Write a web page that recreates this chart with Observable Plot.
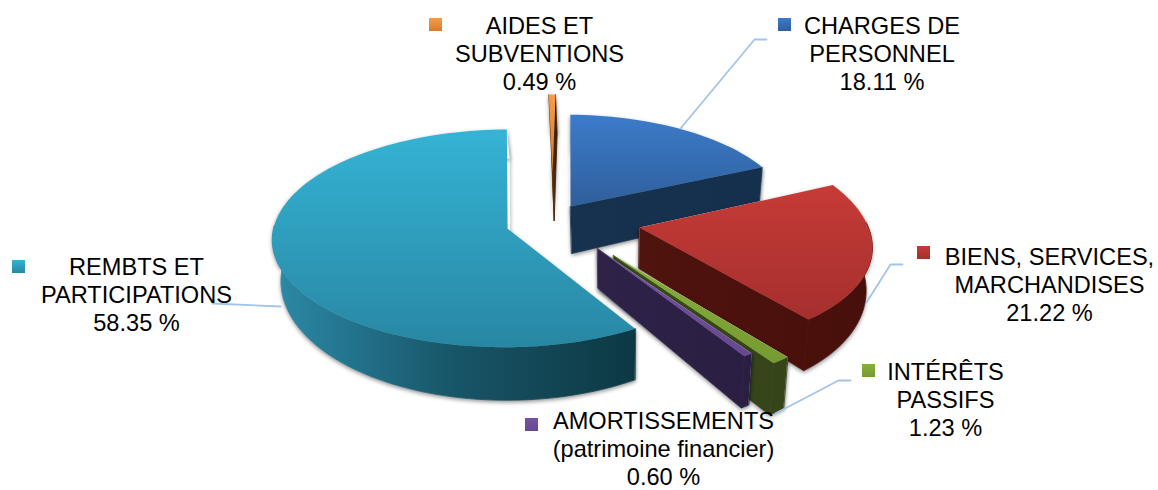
<!DOCTYPE html>
<html lang="fr">
<head>
<meta charset="utf-8">
<script src="https://cdn.jsdelivr.net/npm/d3@7"></script>
<script src="https://cdn.jsdelivr.net/npm/@observablehq/plot@0.6"></script>
<style>
html,body{margin:0;padding:0;background:#fff;overflow:hidden}
svg{display:block}
g[fill="#fefefe"]{filter:drop-shadow(0px 2px 2px rgba(0,0,0,.45))}
</style>
</head>
<body>
<div id="chart"></div>
<script>
// Data, clockwise from the top of the pie
const keys = ["charges", "biens", "interets", "amort", "rembts", "aides"];
const names = ["CHARGES DE\nPERSONNEL", "BIENS, SERVICES,\nMARCHANDISES", "INTÉRÊTS\nPASSIFS",
  "AMORTISSEMENTS\n(patrimoine financier)", "REMBTS ET\nPARTICIPATIONS", "AIDES ET\nSUBVENTIONS"];
const shares = [18.11, 21.22, 1.23, 0.60, 58.35, 0.49];

// Layout of each exploded slice, in the same order
const apexX = [570, 639, 613, 597, 507, 552];
const apexY = [206, 227, 255, 248, 228, 172];
const radiusX = [219, 229, 234, 234, 234, 234];
const radiusY = [100, 108, 119, 116, 108, 85];
const shear = [0.033, 0.2, 0.2, 0.15, -0.03, 0];
const depth0 = [47, 41, 40, 40, 40, 48];
const perspective = 0.09, depthSlope = 0.11, startAngle = 0.8;
const vanishX = 620, converge = 0.025;
const drawOrder = [5, 0, 1, 2, 3, 4];

// Colours: top gradient, side gradient stops
const topStops = [["#3c7bca", "#2f5f9b"], ["#c63b37", "#a52f2d"], ["#86b03a", "#769a31"],
  ["#7552a2", "#664890"], ["#35b3d5", "#2887a3"], ["#fb9a48", "#d87a2c"]];
const sideStops = [["#17324f", "#15304d"], ["#50130e", "#470f0b"], ["#3a4b17", "#35441a"],
  ["#2f2249", "#2a1e42"], ["#2c8aa8", "#185568", "#0d3843"], ["#8a4a10", "#3a2008"]];

// Labels
const labelX = [881.5, 1049, 945, 663, 136, 539];
const labelMid = [53, 284, 399, 448, 294, 53];
const keyX = [778, 917, 862, 525, 12, 429];
const keyY = [18, 246, 364, 418, 260, 18];
const leaders = [
  [[766, 39], [754, 39], [680, 128]],
  [[902, 264], [890, 264], [866, 302]],
  [[850, 380], [838, 380], [775, 413]],
  [[212, 303], [280, 306]]
];

const total = d3.sum(shares);
let cum = startAngle;
const ranges = shares.map(s => { const a = cum; cum += s / total * 360; return [a, cum]; });

function pt(i, deg) {
  const t = deg * Math.PI / 180, w = 1 + perspective * Math.cos(t);
  const dy = -radiusY[i] * Math.cos(t) / w;
  const dx = radiusX[i] * Math.sin(t) / w + shear[i] * dy;
  return {x: apexX[i] + dx, y: apexY[i] + dy, drop: depth0[i] + depthSlope * dy, deg};
}
function arc(i) {
  const [a, b] = ranges[i], n = Math.max(2, Math.ceil((b - a) / 2)), out = [];
  for (let k = 0; k <= n; k++) out.push(pt(i, a + (b - a) * k / n));
  return out;
}
const apex = i => ({x: apexX[i], y: apexY[i], drop: depth0[i]});
const lower = p => ({x: p.x - (p.x - vanishX) * converge, y: p.y + p.drop});
const strip = pts => [...pts, ...pts.slice().reverse().map(lower)];
const face = (o, tip) => [o, tip, lower(tip), lower(o)];
const onRight = deg => { const d = ((deg % 360) + 360) % 360; return d > 0 && d < 180; };

function sliceMarks(i) {
  const a = arc(i), tipA = a[0], tipB = a[a.length - 1], o = apex(i);
  const front = a.filter(p => Math.cos(p.deg * Math.PI / 180) < 0.05);
  const shapes = [face(o, tipA), face(o, tipB), strip(a)];
  const visible = [];
  if (!onRight(tipA.deg)) visible.push(face(o, tipA));
  if (onRight(tipB.deg)) visible.push(face(o, tipB));
  if (front.length > 1) visible.push(strip(front));
  const poly = {x: "x", y: "y", curve: "linear-closed"};
  return [
    ...shapes.map(p => Plot.line(p, {...poly, stroke: "none", fill: "#fefefe"})),
    ...visible.map(p => Plot.line(p, {...poly, fill: `url(#flat${i})`, stroke: `url(#flat${i})`, strokeWidth: 0.8})),
    Plot.line([o, ...a], {...poly, stroke: "none", fill: `url(#top${i})`})
  ];
}

function defs() {
  const d = d3.create("svg:defs");
  const addStops = (g, stops) => stops.forEach((c, k) =>
    g.append("stop").attr("offset", k / (stops.length - 1)).attr("stop-color", c));
  keys.forEach((_, i) => {
    addStops(d.append("linearGradient").attr("id", `top${i}`)
      .attr("x1", 0).attr("y1", 0).attr("x2", 0).attr("y2", 1), topStops[i]);
    const xs = [apexX[i], ...arc(i).map(p => p.x)];
    addStops(d.append("linearGradient").attr("id", `flat${i}`)
      .attr("gradientUnits", "userSpaceOnUse")
      .attr("x1", d3.min(xs)).attr("y1", 0).attr("x2", d3.max(xs)).attr("y2", 0), sideStops[i]);
  });
  return d.node();
}

const labelRows = keys.map((k, i) => ({
  text: `${names[i]}\n${shares[i].toFixed(2)} %`, x: labelX[i], y: labelMid[i],
  kx: keyX[i], ky: keyY[i], i
}));

const chart = Plot.plot({
  width: 1158, height: 490,
  margin: 0,
  x: {domain: [0, 1158], range: [0, 1158], axis: null},
  y: {domain: [0, 490], range: [0, 490], axis: null},
  style: {background: "#fff"},
  marks: [
    defs,
    ...drawOrder.flatMap(sliceMarks),
    ...leaders.map(l => Plot.line(l, {x: d => d[0], y: d => d[1], stroke: "#a3c4ea", strokeWidth: 1.8, curve: "linear"})),
    ...labelRows.map(r => Plot.rect([r], {
      x1: d => d.kx, x2: d => d.kx + 13, y1: d => d.ky, y2: d => d.ky + 13,
      fill: `url(#top${r.i})`, stroke: "none", inset: 0
    })),
    Plot.text(labelRows, {
      x: "x", y: "y", text: "text", fontSize: 23.6, lineHeight: 1.186,
      fontFamily: "Liberation Sans, Arial, sans-serif", fill: "#000", textAnchor: "middle", lineAnchor: "middle"
    })
  ]
});
document.getElementById("chart").append(chart);
</script>
</body>
</html>
